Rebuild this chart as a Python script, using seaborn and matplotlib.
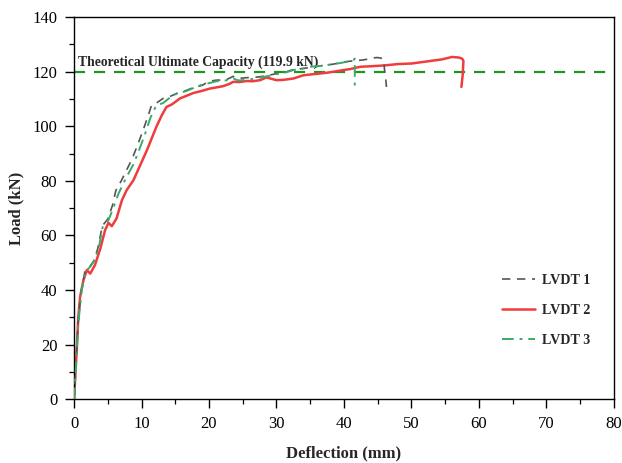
import matplotlib
matplotlib.use("Agg")
import matplotlib.pyplot as plt
import seaborn as sns
import pandas as pd
from matplotlib.ticker import MultipleLocator

# ---- data ----
x1 = [0, 0.15, 0.6, 1.1, 1.6, 2.3, 2.9, 3.5, 4.2, 5.0, 5.7, 6.2, 7.0, 7.8, 8.6, 9.4, 10.3, 11.0, 11.5,
      12.2, 13.2, 14.3, 15.2, 16.5, 17.7, 19.0, 20.0, 21.1, 22.5, 23.6, 24.2, 25.5, 27.0, 28.5, 30.0,
      31.5, 32.5, 34.0, 35.5, 37.0, 38.5, 40.0, 41.5, 42.8, 44.0, 44.8, 45.5, 45.9, 46.0, 46.2, 46.3]
y1 = [0, 6, 28, 40, 46.6, 48.5, 50.5, 55, 63.5, 66, 71, 76.5, 80, 84, 88, 93, 99, 104, 107.8,
      108.5, 110.2, 111, 112, 113, 114.2, 115, 116.5, 116.9, 117, 118.3, 117.5, 117.8, 118, 118.5, 119.3,
      120, 120.8, 121.2, 121.8, 122.3, 122.8, 123.6, 124, 124.3, 124.8, 125.2, 125, 124, 121, 117, 114.4]

x2 = [0, 0.4, 0.64, 0.9, 1.4, 1.9, 2.4, 3.1, 3.9, 4.6, 5.1, 5.6, 6.3, 7.1, 7.8, 8.8, 9.8, 10.8, 11.5,
      12.2, 13.0, 13.7, 14.5, 15.7, 16.5, 17.7, 19.0, 20.1, 21.0, 22.1, 23.0, 23.6, 24.5, 25.6, 26.5,
      27.6, 28.5, 30.0, 31.0, 32.5, 34.0, 35.5, 37.4, 38.5, 39.9, 41.0, 42.4, 44.0, 46.0, 48.0, 50.0,
      51.5, 53.0, 54.5, 56.0, 57.0, 57.5, 57.7, 57.6, 57.4]
y2 = [0, 18, 30.2, 37.5, 43.6, 47.3, 46, 49.1, 55.2, 61.9, 64.6, 63.4, 66.2, 72.9, 76.6, 80.2, 85.7, 91.2, 95.5,
      99.8, 104, 107.1, 108, 110.2, 111, 112.2, 113, 113.8, 114.2, 114.7, 115.5, 116.3, 116.2, 116.6, 116.5,
      116.9, 117.9, 116.9, 117, 117.5, 118.7, 119.1, 119.6, 120, 120.6, 121, 121.8, 122, 122.3, 122.8, 123,
      123.5, 124, 124.5, 125.4, 125.2, 124.8, 124, 119, 114.4]

x3 = [0, 0.15, 0.64, 1.14, 1.63, 2.4, 2.9, 3.6, 4.3, 5.1, 5.8, 6.6, 7.8, 8.8, 9.6, 10.5, 11.3, 12.2,
      13.2, 14.2, 15.2, 16.5, 17.7, 19.2, 20.0, 21.1, 22.5, 23.6, 24.3, 25.5, 27.0, 27.6, 29.0, 30.0,
      31.5, 32.5, 34.0, 35.0, 36.5, 37.4, 39.0, 40.4, 41.0, 41.4, 41.6, 41.6, 41.6]
y3 = [0, 5.7, 27.7, 40, 46.6, 48.5, 50.3, 54.6, 63.8, 65.6, 69.9, 75.4, 81.5, 86, 91, 97, 103, 107.7,
      108.5, 110.5, 112, 112.8, 114, 115.5, 115.8, 116.5, 116.8, 117.5, 116.8, 117, 117.5, 117.9, 118.5, 119.1,
      119.8, 120.6, 121.2, 121.8, 122.1, 122.4, 123, 123.6, 123.8, 124.2, 124.8, 120, 114.4]

series_names = ["LVDT 1", "LVDT 2", "LVDT 3"]
theoretical = 119.9
theoretical_label = "Theoretical Ultimate Capacity (119.9 kN)"

# ---- style ----
sns.set_theme(style="white")
plt.rcParams["font.family"] = ["Liberation Serif", "DejaVu Serif"]

fig = plt.figure(figsize=(6.22, 4.63), dpi=100)
ax = fig.add_axes([0.119, 0.138, 0.868, 0.825])

df1 = pd.DataFrame({"x": x1, "y": y1})
df2 = pd.DataFrame({"x": x2, "y": y2})
df3 = pd.DataFrame({"x": x3, "y": y3})

ax.axhline(theoretical, color="#1e961e", lw=1.6, linestyle=(0, (5, 4)), zorder=1)

sns.lineplot(data=df1, x="x", y="y", sort=False, estimator=None, ax=ax, color="#555555",
             lw=1.2, linestyle=(0, (5, 4)), label=series_names[0], zorder=3)
sns.lineplot(data=df2, x="x", y="y", sort=False, estimator=None, ax=ax, color="#f03c3c",
             lw=1.8, linestyle="-", label=series_names[1], zorder=2)
sns.lineplot(data=df3, x="x", y="y", sort=False, estimator=None, ax=ax, color="#3aaa6a",
             lw=1.4, linestyle=(0, (6, 3, 1.5, 3)), label=series_names[2], zorder=4)

ax.text(0.6, 123.6, theoretical_label, fontsize=9.8, fontweight="bold", va="center", ha="left")

ax.set_xlim(0, 80)
ax.set_ylim(0, 140)
ax.xaxis.set_major_locator(MultipleLocator(10))
ax.xaxis.set_minor_locator(MultipleLocator(5))
ax.yaxis.set_major_locator(MultipleLocator(20))
ax.yaxis.set_minor_locator(MultipleLocator(10))
ax.tick_params(axis="both", which="major", direction="out", length=6.5, width=1, labelsize=12,
               color="black", labelcolor="black", bottom=True, left=True, top=False, right=False, pad=5.5)
ax.tick_params(axis="both", which="minor", direction="out", length=3.5, width=0.9,
               bottom=True, left=True, top=False, right=False, color="black")
for s in ax.spines.values():
    s.set_color("black")
    s.set_linewidth(1.0)

ax.set_xlabel("Deflection (mm)", fontsize=12, fontweight="bold", labelpad=10)
ax.set_ylabel("Load (kN)", fontsize=12, fontweight="bold", labelpad=6)

leg = ax.legend(loc="upper left", bbox_to_anchor=(0.77, 0.36), frameon=False,
                prop={"weight": "bold", "size": 10.2}, handlelength=2.3, labelspacing=1.2,
                handletextpad=0.5)

fig.savefig("out.png", dpi=100)
